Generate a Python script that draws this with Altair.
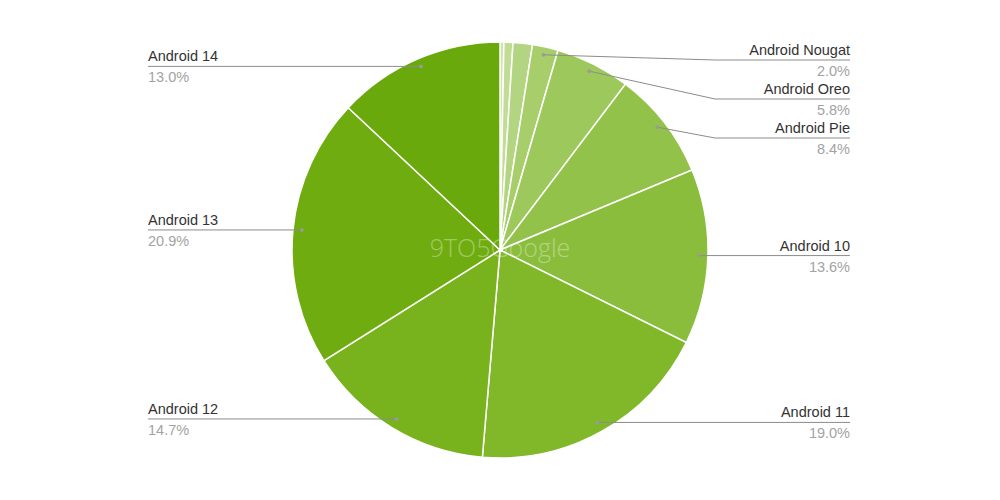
import math
import altair as alt
import pandas as pd

# ---- data ----
names = ["Android KitKat", "Android Lollipop", "Android Marshmallow", "Android Nougat",
         "Android Oreo", "Android Pie", "Android 10", "Android 11", "Android 12",
         "Android 13", "Android 14"]
shares = [0.3, 0.7, 1.5, 2.0, 5.8, 8.4, 13.6, 19.0, 14.7, 20.9, 13.0]
labeled = [False, False, False, True, True, True, True, True, True, True, True]
colors = ["#cfe5ae", "#c0dc95", "#b3d582", "#a7ce6b", "#9dc85b", "#93c24a",
          "#8abd3b", "#80b829", "#78b31d", "#6eac0f", "#6aa90b"]
watermark = "9TO5Google"

# ---- geometry (pixels, origin at pie centre, y up) ----
W, H = 984, 484
CX, CY = 492, 241
R = 208
DOT_R = 199
ELBOW = 215
LABEL_R = 350
LABEL_L = -352
TOP_LIMIT = 189
GAP = 39

total = sum(shares)
pie_df = pd.DataFrame({"name": names, "share": shares, "idx": list(range(len(names)))})

rows = []
cum = 0.0
for n, v, lab in zip(names, shares, labeled):
    mid = (cum + v / 2) / total * 2 * math.pi
    cum += v
    if not lab:
        continue
    dx = DOT_R * math.sin(mid)
    dy = DOT_R * math.cos(mid)
    rows.append({"name": n, "pct": f"{v:.1f}%", "dx": dx, "dy": dy,
                 "side": "right" if dx > 0 else "left"})

for side in ("right", "left"):
    side_rows = sorted([r for r in rows if r["side"] == side], key=lambda r: -r["dy"])
    prev = TOP_LIMIT + GAP
    for r in side_rows:
        r["ly"] = min(r["dy"], prev - GAP)
        prev = r["ly"]
        r["lx"] = LABEL_R if side == "right" else LABEL_L
        r["ex"] = ELBOW if side == "right" else -ELBOW

lab_df = pd.DataFrame(rows)

line_rows = []
for r in rows:
    pts = [(r["dx"], r["dy"]), (r["ex"], r["ly"]), (r["lx"], r["ly"])]
    for i, (x, y) in enumerate(pts):
        line_rows.append({"name": r["name"], "pt": i, "x": x, "y": y})
line_df = pd.DataFrame(line_rows)

xs = alt.Scale(domain=[-CX, W - CX], nice=False, zero=False)
ys = alt.Scale(domain=[-(H - CY), CY], nice=False, zero=False)

pie = alt.Chart(pie_df).mark_arc(radius=R, stroke="white", strokeWidth=1.5).encode(
    theta=alt.Theta("share:Q", stack=True),
    color=alt.Color("name:N", scale=alt.Scale(domain=names, range=colors), legend=None),
    order=alt.Order("idx:Q"),
)

wm = alt.Chart(pd.DataFrame({"t": [watermark], "zx": [0], "zy": [0]})).mark_text(
    fontSize=25, font="Open Sans", fontWeight=300, color="white", opacity=0.35
).encode(x=alt.X("zx:Q", scale=xs, axis=None),
         y=alt.Y("zy:Q", scale=ys, axis=None), text="t:N")

lines = alt.Chart(line_df).mark_line(color="#8c8c8c", strokeWidth=1).encode(
    x=alt.X("x:Q", scale=xs, axis=None),
    y=alt.Y("y:Q", scale=ys, axis=None),
    detail="name:N",
    order="pt:Q",
)

dots = alt.Chart(lab_df).mark_circle(size=14, color="#9a9a9a", opacity=1).encode(
    x=alt.X("dx:Q", scale=xs, axis=None),
    y=alt.Y("dy:Q", scale=ys, axis=None),
)

def side_text(side, align):
    base = alt.Chart(lab_df).transform_filter(alt.datum.side == side)
    nm = base.mark_text(align=align, baseline="alphabetic", dy=-5, fontSize=14.5,
                        font="Liberation Sans", color="#333333").encode(
        x=alt.X("lx:Q", scale=xs, axis=None), y=alt.Y("ly:Q", scale=ys, axis=None), text="name:N")
    pc = base.mark_text(align=align, baseline="top", dy=5, fontSize=14.5,
                        font="Liberation Sans", color="#a3a3a3").encode(
        x=alt.X("lx:Q", scale=xs, axis=None), y=alt.Y("ly:Q", scale=ys, axis=None), text="pct:N")
    return nm + pc

chart = alt.layer(
    pie, wm, lines, dots, side_text("right", "right"), side_text("left", "left")
).properties(width=W, height=H, padding=0, background="white").configure_view(stroke=None)

chart.save("out.html", embed_options={"renderer": "svg", "actions": False})
